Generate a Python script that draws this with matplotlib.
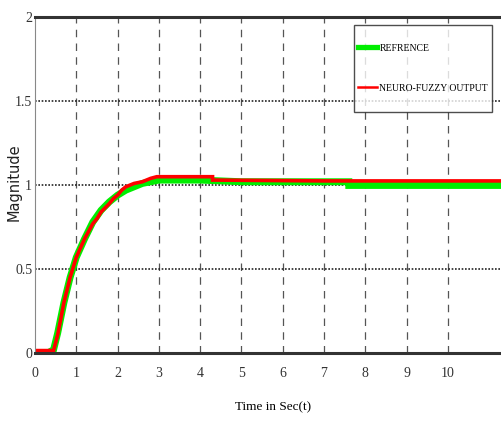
import numpy as np
import matplotlib.pyplot as plt

# reference response (green) and neuro-fuzzy output (red)
t_ref = [0, 0.3, 0.45, 0.55, 0.7, 0.85, 1.0, 1.2, 1.4, 1.6, 1.8, 2.0, 2.2, 2.4,
         2.6, 2.8, 3.0, 3.5, 4.0, 4.5, 5.0, 6.0, 7.0, 7.6, 7.6, 8.0, 9.0, 10.0, 11.5]
y_ref = [0.0, 0.0, 0.02, 0.12, 0.3, 0.45, 0.57, 0.68, 0.78, 0.85, 0.9, 0.94, 0.97, 0.99,
         1.01, 1.02, 1.03, 1.03, 1.03, 1.025, 1.02, 1.02, 1.02, 1.02, 0.998, 0.998, 0.998, 0.998, 0.998]

t_nf = [0, 0.45, 0.55, 0.7, 0.85, 1.0, 1.2, 1.4, 1.5, 1.6, 1.8, 1.9, 2.0, 2.1,
        2.2, 2.4, 2.6, 2.8, 2.95, 4.3, 4.3, 7.0, 11.5]
y_nf = [0.015, 0.015, 0.11, 0.3, 0.45, 0.57, 0.68, 0.77, 0.8, 0.84, 0.89, 0.92, 0.94, 0.97,
        0.99, 1.01, 1.02, 1.04, 1.05, 1.05, 1.03, 1.025, 1.025]

xticks = [0, 1, 2, 3, 4, 5, 6, 7, 8, 9, 10]
yticks = [0, 0.5, 1, 1.5, 2]
ytick_labels = ['0', '0.5', '1', '1.5', '2']

fig = plt.figure(figsize=(5.02, 4.28), dpi=100)
ax = fig.add_axes([0.0697, 0.175, 0.9303, 0.785])

ax.plot(t_ref, y_ref, color='#00ee00', lw=5.0, label='REFRENCE', solid_joinstyle='miter')
ax.plot(t_nf, y_nf, color='#ff0000', lw=2.6, label='NEURO-FUZZY OUTPUT', solid_joinstyle='miter')

ax.set_xlim(0, 11.31)
ax.set_ylim(0, 2)

# dashed verticals, dotted horizontals
for x in xticks[1:]:
    ax.axvline(x, color='#555555', lw=0.9, ls=(0, (6, 5)), zorder=0)
for y in [0.5, 1, 1.5]:
    ax.axhline(y, color='#222222', lw=1.2, ls=(0, (1, 1)), zorder=0)

ax.set_xticks(xticks)
ax.set_yticks(yticks)
ax.set_yticklabels(ytick_labels)
ax.tick_params(axis='x', length=0, pad=10)
ax.tick_params(axis='y', length=0, pad=2)
for lab in ax.get_xticklabels() + ax.get_yticklabels():
    lab.set_family('Liberation Serif')
    lab.set_fontsize(10)
    lab.set_color('#333333')

ax.spines['right'].set_visible(False)
ax.spines['top'].set_linewidth(2.2)
ax.spines['top'].set_color('#333333')
ax.spines['bottom'].set_linewidth(2.2)
ax.spines['bottom'].set_color('#333333')
ax.spines['left'].set_linewidth(0.8)
ax.spines['left'].set_color('#888888')

ax.set_xlabel('Time in Sec(t)', family='Liberation Serif', fontsize=9.5)
ax.xaxis.set_label_coords(0.51, -0.142)
ax.set_ylabel('Magnitude', family='DejaVu Sans', fontsize=10.5, color='#222222')
ax.yaxis.set_label_coords(-0.028, 0.51)

leg = ax.legend(loc='upper right', bbox_to_anchor=(0.978, 0.976), fancybox=False,
                prop={'family': 'Liberation Serif', 'size': 7},
                labelspacing=0.0, handlelength=2.0, handleheight=5.9,
                handletextpad=0.2, borderpad=0.4, borderaxespad=0)
# centre each label on its handle row
for col in leg._legend_handle_box.get_children():
    for row in col.get_children():
        row.align = 'center'
leg.get_frame().set_edgecolor('#222222')
leg.get_frame().set_linewidth(1.0)
for h, w in zip(leg.legend_handles, [3.8, 1.8]):
    h.set_linewidth(w)
    h.set_ydata(np.asarray(h.get_ydata()) - 5)

fig.savefig('out.png', dpi=100)
